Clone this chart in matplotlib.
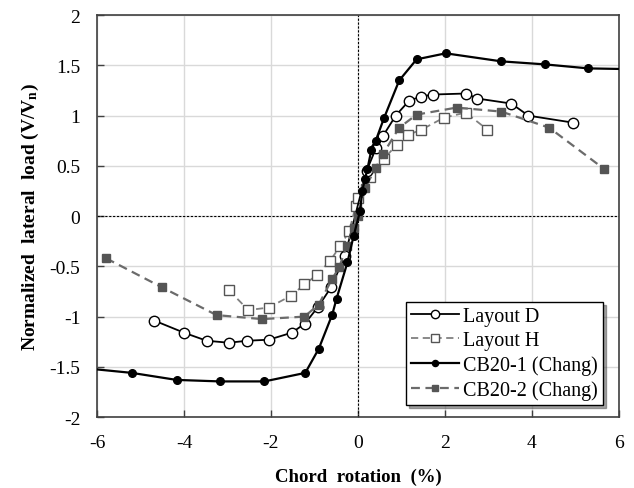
import matplotlib.pyplot as plt

plt.rcParams["font.family"] = ["Liberation Serif", "DejaVu Serif"]
plt.rcParams["mathtext.fontset"] = "custom"
plt.rcParams["mathtext.rm"] = "Liberation Serif"
plt.rcParams["mathtext.it"] = "Liberation Serif:italic"
plt.rcParams["mathtext.bf"] = "Liberation Serif:bold"

# values
layout_d_x = [-4.68, -4.0, -3.48, -2.97, -2.54, -2.05, -1.52, -1.22, -0.91, -0.62, -0.3,
              0.2, 0.42, 0.58, 0.87, 1.18, 1.46, 1.73, 2.48, 2.75, 3.53, 3.92, 4.95]
layout_d_y = [-1.04, -1.16, -1.24, -1.26, -1.24, -1.23, -1.16, -1.07, -0.90, -0.71, -0.40,
              0.45, 0.68, 0.80, 1.00, 1.15, 1.19, 1.21, 1.22, 1.17, 1.12, 1.00, 0.93]

layout_h_x = [-2.96, -2.52, -2.05, -1.53, -1.23, -0.94, -0.64, -0.41, -0.2, -0.05, 0.01,
              0.28, 0.60, 0.89, 1.16, 1.46, 1.98, 2.48, 2.98]
layout_h_y = [-0.74, -0.935, -0.91, -0.79, -0.68, -0.585, -0.445, -0.30, -0.15, 0.10, 0.18,
              0.385, 0.57, 0.71, 0.81, 0.86, 0.98, 1.03, 0.86]

cb1_x = [-6.6, -5.20, -4.17, -3.17, -2.15, -1.21, -0.90, -0.59, -0.49, -0.24, -0.1,
         0.05, 0.10, 0.16, 0.22, 0.31, 0.41, 0.60, 0.95, 1.35, 2.02, 3.30, 4.30, 5.30, 6.6]
cb1_y = [-1.50, -1.56, -1.63, -1.645, -1.645, -1.56, -1.32, -0.98, -0.82, -0.46, -0.20,
         0.05, 0.25, 0.365, 0.47, 0.66, 0.75, 0.975, 1.35, 1.56, 1.62, 1.54, 1.51, 1.47, 1.46]

cb2_x = [-5.79, -4.50, -3.25, -2.20, -1.23, -0.90, -0.60, -0.43, -0.26, -0.1, 0.0,
         0.16, 0.41, 0.58, 0.95, 1.35, 2.27, 3.30, 4.40, 5.66]
cb2_y = [-0.42, -0.71, -0.985, -1.025, -1.0, -0.88, -0.63, -0.51, -0.30, -0.12, 0.0,
         0.275, 0.48, 0.62, 0.88, 1.01, 1.08, 1.04, 0.88, 0.47]

fig = plt.figure(figsize=(6.34, 4.89), dpi=100)
ax = fig.add_axes([0.153, 0.145, 0.823, 0.822])

ax.axhline(0, color="black", lw=0.8, ls=(0, (2, 1.5)), zorder=1)
ax.axvline(0, color="black", lw=0.8, ls=(0, (2, 1.5)), zorder=1)

ax.plot(layout_h_x, layout_h_y, color="#808080", lw=1.3, ls=(0, (4, 2.5)), marker="s", ms=7,
        mfc="white", mec="#555555", mew=1.0, label="Layout H", zorder=3)
ax.plot(layout_d_x, layout_d_y, color="black", lw=1.3, marker="o", ms=7.5,
        mfc="white", mec="black", mew=1.0, label="Layout D", zorder=3)
ax.plot(cb2_x, cb2_y, color="#6b6b6b", lw=1.6, ls=(0, (4, 2.5)), marker="s", ms=6,
        mfc="#555555", mec="#555555", label="CB20-2 (Chang)", zorder=4)
ax.plot(cb1_x, cb1_y, color="black", lw=1.6, marker="o", ms=5.5,
        mfc="black", mec="black", label="CB20-1 (Chang)", zorder=4)

ax.set_xlim(-6, 6)
ax.set_ylim(-2, 2)
ax.set_xticks([-6, -4, -2, 0, 2, 4, 6])
ax.set_yticks([-2, -1.5, -1, -0.5, 0, 0.5, 1, 1.5, 2])
ax.set_yticklabels(["-2", "-1.5", "-1", "-0.5", "0", "0.5", "1", "1.5", "2"])
ax.set_xticklabels(["-6", "-4", "-2", "0", "2", "4", "6"])
ax.tick_params(direction="in", length=5, width=1, labelsize=14, pad=12, color="#404040")
ax.grid(color="#d9d9d9", lw=1)
ax.set_axisbelow(True)
for sp in ax.spines.values():
    sp.set_color("#404040")
    sp.set_linewidth(1.2)

ax.set_xlabel("Chord  rotation  (%)", fontsize=13.5, fontweight="bold", labelpad=12)
ax.set_ylabel(r"Normalized  lateral  load (V/V$_\mathbf{n}$)", fontsize=14,
              fontweight="bold", labelpad=6)

handles, labels = ax.get_legend_handles_labels()
order = [1, 0, 3, 2]
leg = ax.legend([handles[i] for i in order], [labels[i] for i in order],
                loc="lower right", bbox_to_anchor=(0.97, 0.03), fontsize=14.5,
                frameon=True, fancybox=False, shadow=True, edgecolor="black",
                framealpha=1, handlelength=2.4, handletextpad=0.2, markerscale=0.8,
                borderpad=0.25, labelspacing=0.25, borderaxespad=0)
leg.get_frame().set_linewidth(1.0)

fig.savefig("out.png", dpi=100)
